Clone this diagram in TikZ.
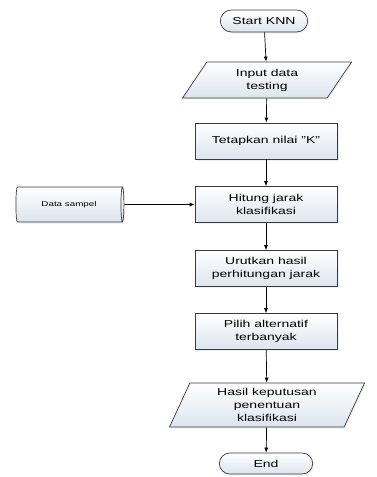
\documentclass[tikz,border=0pt]{standalone}
\usepackage{fontspec}
\setmainfont{Liberation Sans}[FakeStretch=1.4]
\usetikzlibrary{shapes.geometric, shapes.misc, arrows.meta, shadows}
\tikzset{>={Latex[length=5pt,width=4pt]}}
\definecolor{boxbot}{HTML}{DCE4EE}
\definecolor{boxline}{HTML}{3A3A3A}
\tikzset{ % flowchart styles
  base/.style={draw=boxline, line width=0.7pt, top color=white, bottom color=boxbot,
    align=center, font=\fontsize{10}{13}\selectfont,
    drop shadow={opacity=0.12, shadow xshift=1.5pt, shadow yshift=-1.5pt}},
  process/.style={base, rectangle, minimum width=142pt, minimum height=36pt},
  terminal/.style={base, rounded rectangle, minimum width=94pt, minimum height=22pt},
  io/.style={base, trapezium, trapezium stretches body, inner xsep=0pt},
  store/.style={base, cylinder, shape aspect=0.45, inner ysep=0pt, font=\fontsize{7}{9}\selectfont},
  flow/.style={->, line width=0.7pt}
}

\begin{document}
\begin{tikzpicture}[x=1pt, y=-1pt]
\useasboundingbox (0,0) rectangle (376,477);
\node[terminal] (start) at (264,21) {Start KNN};
\node[io, trapezium left angle=50, trapezium right angle=130,
      minimum width=169pt, minimum height=36pt] (input) at (267,80) {Input data\\testing};
\node[process] (nilaik)  at (266,141)   {Tetapkan nilai "K"};
\node[process] (hitung)  at (266,204.5) {Hitung jarak\\klasifikasi};
\node[process] (urutkan) at (266,268.5) {Urutkan hasil\\perhitungan jarak};
\node[process] (pilih)   at (266,331.5) {Pilih alternatif\\terbanyak};
\node[io, trapezium left angle=63, trapezium right angle=117,
      minimum width=195pt, minimum height=44pt] (hasil) at (267,405) {Hasil keputusan\\penentuan\\klasifikasi};
\node[terminal, minimum width=100pt, minimum height=21pt] (end) at (266,463.5) {End};
\node[store, minimum width=35pt, minimum height=108pt] (sampel) at (69,204.5) {Data sampel};
\path
(start)   edge[flow] (input)
(input)   edge[flow] (nilaik)
(nilaik)  edge[flow] (hitung)
(hitung)  edge[flow] (urutkan)
(urutkan) edge[flow] (pilih)
(pilih)   edge[flow] (hasil)
(hasil)   edge[flow] (end)
(sampel)  edge[flow] (hitung);
\end{tikzpicture}
\end{document}
